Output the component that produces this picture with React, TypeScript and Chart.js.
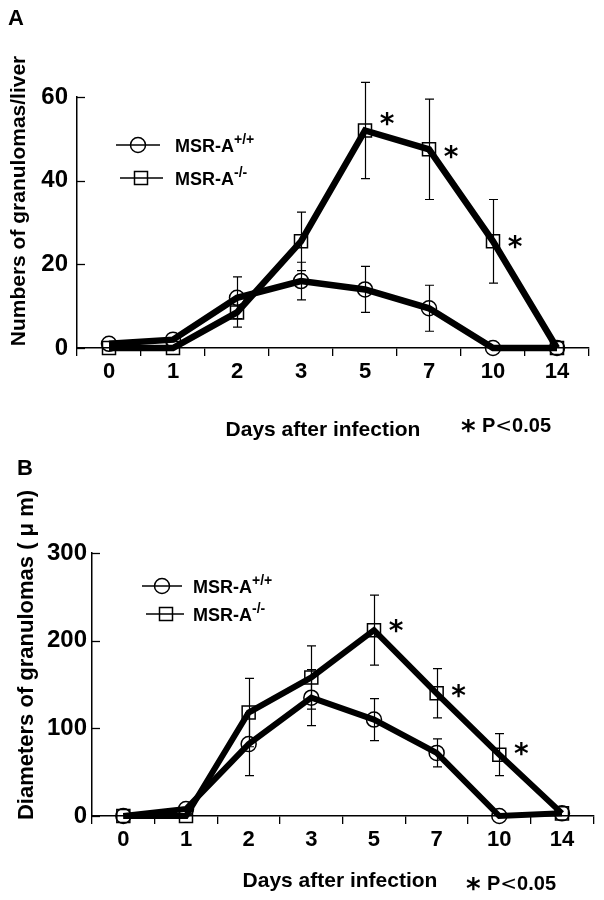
import React, { useEffect, useRef } from "react";
import { Chart, registerables } from "chart.js";
Chart.register(...registerables);

const FONT = "'Liberation Sans', Arial, Helvetica, sans-serif";

// ---- data ----
const days = ["0", "1", "2", "3", "5", "7", "10", "14"];

const countWT = [1, 2, 12, 16, 14, 9.5, 0, 0];
const countWTErr = [0, 0, 5, 4.5, 5.5, 5.5, 0, 0];
const countKO = [0, 0, 8.5, 25.5, 52, 47.5, 25.5, 0];
const countKOErr = [0, 0, 3.5, 7, 11.5, 12, 10, 0];
const countSig = [4, 5, 6];

const diamWT = [0, 8, 82, 135, 110, 72, 0, 3];
const diamWTErr = [0, 0, 36, 32, 24, 16, 0, 0];
const diamKO = [0, 0, 118, 158, 212, 140, 70, 3];
const diamKOErr = [0, 0, 39, 36, 40, 28, 24, 0];
const diamSig = [4, 5, 6];

const countTicks = [0, 20, 40, 60];
const diamTicks = [0, 100, 200, 300];

type Panel = {
  letter: string;
  yTitle: string;
  wt: number[];
  wtErr: number[];
  ko: number[];
  koErr: number[];
  sig: number[];
  sigDy: number[];
  yMax: number;
  yStep: number;
  pad: { left: number; top: number; right: number; bottom: number };
  yWidth: number;
  yLabelPad: number;
  lineWidth: number;
  letterPos: [number, number];
  yTitlePos: [number, number, number];
  xTitlePos: [number, number, number];
  pPos: [number, number];
  legend: { x1: number; x2: number; mx: number; y: number; tx: number }[];
};

function drawTextRun(ctx: CanvasRenderingContext2D, parts: { t: string; font: string; dy?: number }[], x: number, y: number) {
  let cx = x;
  for (const p of parts) {
    ctx.font = p.font;
    ctx.fillText(p.t, cx, y + (p.dy || 0));
    cx += ctx.measureText(p.t).width;
  }
}

function drawMarker(ctx: CanvasRenderingContext2D, kind: string, x: number, y: number) {
  ctx.save();
  ctx.strokeStyle = "#000";
  ctx.lineWidth = 1.5;
  ctx.beginPath();
  if (kind === "circle") ctx.arc(x, y, 7.5, 0, Math.PI * 2);
  else ctx.rect(x - 6.5, y - 6.5, 13, 13);
  ctx.stroke();
  ctx.restore();
}

function makePlugin(p: Panel) {
  return {
    id: "decor" + p.letter,
    afterDatasetsDraw(chart: any) {
      const ctx: CanvasRenderingContext2D = chart.ctx;
      const ys = chart.scales.y;
      const errs = [p.wtErr, p.koErr];
      const vals = [p.wt, p.ko];
      ctx.save();
      ctx.strokeStyle = "#000";
      ctx.lineWidth = 1.2;
      for (let d = 0; d < 2; d++) {
        const meta = chart.getDatasetMeta(d);
        meta.data.forEach((pt: any, j: number) => {
          const e = errs[d][j];
          if (!e) return;
          const v = vals[d][j];
          const yt = ys.getPixelForValue(v + e);
          const yb = ys.getPixelForValue(Math.max(v - e, 0));
          const x = Math.round(pt.x) + 0.5;
          ctx.beginPath();
          ctx.moveTo(x, yt);
          ctx.lineTo(x, yb);
          ctx.moveTo(x - 4.5, yt);
          ctx.lineTo(x + 4.5, yt);
          ctx.moveTo(x - 4.5, yb);
          ctx.lineTo(x + 4.5, yb);
          ctx.stroke();
        });
      }
      ctx.restore();
    },
    afterDraw(chart: any) {
      const ctx: CanvasRenderingContext2D = chart.ctx;
      const ys = chart.scales.y;
      ctx.save();
      ctx.fillStyle = "#000";
      ctx.strokeStyle = "#000";
      // inward y ticks
      ctx.lineWidth = 1.3;
      ys.ticks.forEach((t: any) => {
        const y = Math.round(ys.getPixelForValue(t.value)) + 0.5;
        ctx.beginPath();
        ctx.moveTo(ys.right, y);
        ctx.lineTo(ys.right + 8, y);
        ctx.stroke();
      });
      // panel letter
      ctx.textAlign = "left";
      ctx.textBaseline = "alphabetic";
      ctx.font = `bold 22px ${FONT}`;
      ctx.fillText(p.letter, p.letterPos[0], p.letterPos[1]);
      // y title
      ctx.save();
      ctx.translate(p.yTitlePos[0], p.yTitlePos[1]);
      ctx.rotate(-Math.PI / 2);
      ctx.textAlign = "center";
      ctx.font = `bold ${p.yTitlePos[2]}px ${FONT}`;
      ctx.fillText(p.yTitle, 0, 0);
      ctx.restore();
      // x title
      ctx.textAlign = "center";
      ctx.font = `bold ${p.xTitlePos[2]}px ${FONT}`;
      ctx.fillText("Days after infection", p.xTitlePos[0], p.xTitlePos[1]);
      // significance note
      ctx.textAlign = "left";
      ctx.font = `bold 28px 'DejaVu Sans', sans-serif`;
      ctx.fillText("*", p.pPos[0], p.pPos[1] + 8);
      drawTextRun(
        ctx,
        [
          { t: "P", font: `bold 20px ${FONT}` },
          { t: "<", font: `20px 'DejaVu Sans', sans-serif` },
          { t: "0.05", font: `bold 20px ${FONT}` },
        ],
        p.pPos[0] + 21,
        p.pPos[1]
      );
      // asterisks next to significant points
      const meta = chart.getDatasetMeta(1);
      p.sig.forEach((j, k) => {
        const pt = meta.data[j];
        ctx.font = `bold 28px 'DejaVu Sans', sans-serif`;
        ctx.textAlign = "center";
        ctx.fillText("*", pt.x + 22, pt.y + p.sigDy[k] + 15);
      });
      // legend
      const kinds = ["circle", "rect"];
      const sups = ["+/+", "-/-"];
      p.legend.forEach((L, i) => {
        ctx.lineWidth = 1.5;
        ctx.beginPath();
        ctx.moveTo(L.x1, L.y);
        ctx.lineTo(L.x2, L.y);
        ctx.stroke();
        drawMarker(ctx, kinds[i], L.mx, L.y);
        ctx.textAlign = "left";
        drawTextRun(
          ctx,
          [
            { t: "MSR-A", font: `bold 18px ${FONT}` },
            { t: sups[i], font: `bold 14px ${FONT}`, dy: -8 },
          ],
          L.tx,
          L.y + 7
        );
      });
      ctx.restore();
    },
  };
}

function buildChart(canvas: HTMLCanvasElement, p: Panel) {
  const ds = (data: number[], style: string, r: number) => ({
    data,
    borderColor: "#000",
    borderWidth: p.lineWidth,
    pointStyle: style,
    pointRadius: r,
    pointBorderWidth: 1.5,
    pointBorderColor: "#000",
    pointBackgroundColor: "rgba(0,0,0,0)",
    tension: 0,
    clip: false as any,
    borderJoinStyle: "miter" as any,
  });
  return new Chart(canvas, {
    type: "line",
    data: {
      labels: days,
      datasets: [ds(p.wt, "circle", 7.5), ds(p.ko, "rect", 9.2)],
    },
    plugins: [makePlugin(p)],
    options: {
      animation: false,
      responsive: false,
      devicePixelRatio: 1,
      events: [],
      layout: { padding: p.pad },
      plugins: { legend: { display: false }, tooltip: { enabled: false } },
      scales: {
        x: {
          type: "category",
          offset: true,
          grid: {
            display: true,
            offset: true,
            drawOnChartArea: false,
            drawTicks: true,
            tickLength: 8,
            color: "#000",
            lineWidth: 1.3,
          },
          border: { display: true, color: "#000", width: 1.5 },
          ticks: {
            color: "#000",
            font: { family: FONT, size: 22, weight: "bold" },
            padding: 3,
            maxRotation: 0,
            autoSkip: false,
          },
          afterFit: (s: any) => {
            s.height = 40;
          },
        },
        y: {
          min: 0,
          max: p.yMax,
          grid: { display: true, drawOnChartArea: false, drawTicks: false },
          border: { display: true, color: "#000", width: 1.5 },
          ticks: {
            stepSize: p.yStep,
            color: "#000",
            font: { family: FONT, size: 24, weight: "bold" },
            padding: p.yLabelPad,
          },
          afterFit: (s: any) => {
            s.width = p.yWidth;
          },
        },
      },
    } as any,
  });
}

const panelA: Panel = {
  letter: "A",
  yTitle: "Numbers of granulomas/liver",
  wt: countWT,
  wtErr: countWTErr,
  ko: countKO,
  koErr: countKOErr,
  sig: countSig,
  sigDy: [-12, 2, 0],
  yMax: countTicks[countTicks.length - 1],
  yStep: countTicks[1] - countTicks[0],
  pad: { left: 0, top: 97, right: 15, bottom: 62 },
  yWidth: 77,
  yLabelPad: 9,
  lineWidth: 6.5,
  letterPos: [8, 25],
  yTitlePos: [25, 201, 21],
  xTitlePos: [323, 436, 21],
  pPos: [461, 432],
  legend: [
    { x1: 116, x2: 160, mx: 138, y: 145, tx: 175 },
    { x1: 120, x2: 163, mx: 141, y: 178, tx: 175 },
  ],
};

const panelB: Panel = {
  letter: "B",
  yTitle: "Diameters of granulomas ( \u03bc m)",
  wt: diamWT,
  wtErr: diamWTErr,
  ko: diamKO,
  koErr: diamKOErr,
  sig: diamSig,
  sigDy: [-5, -3, -7],
  yMax: diamTicks[diamTicks.length - 1],
  yStep: diamTicks[1] - diamTicks[0],
  pad: { left: 0, top: 103, right: 6, bottom: 44 },
  yWidth: 92,
  yLabelPad: 5,
  lineWidth: 6,
  letterPos: [17, 25],
  yTitlePos: [33, 205, 22],
  xTitlePos: [340, 437, 21],
  pPos: [466, 440],
  legend: [
    { x1: 142, x2: 182, mx: 162, y: 136, tx: 193 },
    { x1: 146, x2: 184, mx: 166, y: 164, tx: 193 },
  ],
};

function PanelChart({ panel, top }: { panel: Panel; top: number }) {
  const ref = useRef<HTMLCanvasElement>(null);
  useEffect(() => {
    const chart = buildChart(ref.current!, panel);
    return () => chart.destroy();
  }, [panel]);
  return (
    <canvas
      ref={ref}
      width={604}
      height={450}
      style={{ position: "absolute", left: 0, top, width: 604, height: 450, display: "block" }}
    />
  );
}

export default function App() {
  return (
    <div style={{ position: "absolute", left: 0, top: 0, width: 604, height: 900, background: "#fff" }}>
      <PanelChart panel={panelA} top={0} />
      <PanelChart panel={panelB} top={450} />
    </div>
  );
}
